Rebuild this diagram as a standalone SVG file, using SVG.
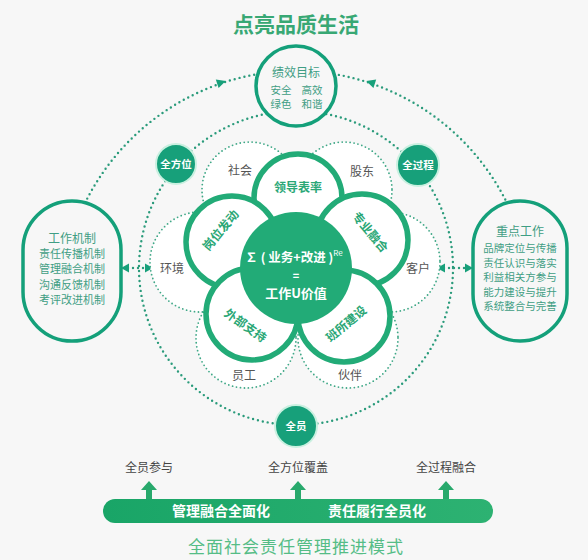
<svg xmlns="http://www.w3.org/2000/svg" width="588" height="560" viewBox="0 0 588 560">
<defs>
<style>
.bg{fill:#f7f7f7}
.dot{fill:none;stroke:#2a9b7b;stroke-width:2.4;stroke-dasharray:0 5;stroke-linecap:round}
.sdot{fill:none;stroke:#3fa887;stroke-width:1.8;stroke-dasharray:0 4;stroke-linecap:round}
.sfill{fill:#ffffff;stroke:none}
.ah{fill:#17a07a}
.ring{fill:#f7f7f7;stroke:#14a07a;stroke-width:3.5}
.petal{fill:#ffffff;stroke:#22ab77;stroke-width:5.5}
.core{fill:#22ab77}
.badge{fill:#17a07a;stroke:#c9f0e0;stroke-width:2}
.t{font-family:"Noto Sans CJK SC","Noto Sans",sans-serif;text-anchor:middle}
.teal{fill:#3f9e84}
.pt{fill:#2aa776;font-weight:bold;font-size:12px}
.lbl{fill:#555;font-size:12px}
.wb{fill:#ffffff;font-weight:bold}
.up{fill:#28a96c}
</style>
<linearGradient id="bar" x1="0" y1="0" x2="1" y2="0">
<stop offset="0" stop-color="#19a567"/>
<stop offset="1" stop-color="#2db272"/>
</linearGradient>
</defs>
<rect class="bg" x="0" y="0" width="588" height="560"/>

<text class="t" x="296" y="32" font-size="21" font-weight="bold" fill="#38a874">点亮品质生活</text>

<g id="connectors">
<circle class="dot" cx="296" cy="268" r="157"/>
<path class="dot" d="M85,203 A237,237 0 0 1 258,74"/>
<path class="dot" d="M334,74 A237,237 0 0 1 507,203"/>
<polygon class="ah" points="5,0 -4,-4.5 -4,4.5" transform="translate(221,82.5) rotate(-18)"/>
<polygon class="ah" points="5,0 -4,-4.5 -4,4.5" transform="translate(371,82.5) rotate(198)"/>
<line class="dot" x1="128" y1="268" x2="146" y2="268"/>
<polygon class="ah" points="121,268 129,263.5 129,272.5"/>
<polygon class="ah" points="153,268 145,263.5 145,272.5"/>
<line class="dot" x1="444" y1="268" x2="466" y2="268"/>
<polygon class="ah" points="437,268 445,263.5 445,272.5"/>
<polygon class="ah" points="473,268 465,263.5 465,272.5"/>
</g>

<g id="stakeholders">
<circle class="sfill" cx="250" cy="190" r="48"/>
<circle class="sfill" cx="344" cy="190" r="48"/>
<circle class="sfill" cx="200" cy="262" r="50"/>
<circle class="sfill" cx="390" cy="262" r="50"/>
<circle class="sfill" cx="246" cy="338" r="50"/>
<circle class="sfill" cx="348" cy="338" r="50"/>
<circle class="sdot" cx="250" cy="190" r="48"/>
<circle class="sdot" cx="344" cy="190" r="48"/>
<circle class="sdot" cx="200" cy="262" r="50"/>
<circle class="sdot" cx="390" cy="262" r="50"/>
<circle class="sdot" cx="246" cy="338" r="50"/>
<circle class="sdot" cx="348" cy="338" r="50"/>
<text class="t lbl" x="240" y="175">社会</text>
<text class="t lbl" x="362" y="176">股东</text>
<text class="t lbl" x="172" y="273">环境</text>
<text class="t lbl" x="418" y="273">客户</text>
<text class="t lbl" x="244" y="380">员工</text>
<text class="t lbl" x="350" y="380">伙伴</text>
</g>

<g id="petal-lead"><circle class="petal" cx="298" cy="198" r="44"/></g>
<g id="petal-post"><circle class="petal" cx="232" cy="242" r="46"/></g>
<g id="petal-pro"><circle class="petal" cx="362" cy="240" r="46"/></g>
<g id="petal-ext"><circle class="petal" cx="252" cy="314" r="46"/></g>
<g id="petal-team"><circle class="petal" cx="344" cy="316" r="46"/></g>
<g id="core">
<circle class="core" cx="296" cy="268" r="56"/>
<text class="t wb" x="294" y="262" font-size="12.5">∑ ( 业务+改进 )<tspan dy="-6" font-size="8" font-weight="normal">Re</tspan></text>
<text class="t wb" x="296" y="280" font-size="11">=</text>
<text class="t wb" x="296" y="298" font-size="13">工作U价值</text>
</g>
<text class="t pt" x="298" y="192">领导表率</text>
<text class="t pt" transform="translate(224,233) rotate(-50)">岗位发动</text>
<text class="t pt" transform="translate(367,235) rotate(50)">专业融合</text>
<text class="t pt" transform="translate(243,329) rotate(35)">外部支持</text>
<text class="t pt" transform="translate(349,327) rotate(-40)">班所建设</text>

<g id="goal">
<circle class="ring" cx="296" cy="86" r="40"/>
<text class="t teal" x="296" y="77" font-size="12">绩效目标</text>
<text class="t teal" x="281" y="94" font-size="10.5">安全</text>
<text class="t teal" x="312" y="94" font-size="10.5">高效</text>
<text class="t teal" x="281" y="108" font-size="10.5">绿色</text>
<text class="t teal" x="312" y="108" font-size="10.5">和谐</text>
</g>

<g id="mechanism">
<rect class="ring" x="23" y="201" width="98" height="140" rx="49"/>
<text class="t teal" x="72" y="243" font-size="12">工作机制</text>
<text class="t teal" x="72" y="258" font-size="11">责任传播机制</text>
<text class="t teal" x="72" y="273" font-size="11">管理融合机制</text>
<text class="t teal" x="72" y="289" font-size="11">沟通反馈机制</text>
<text class="t teal" x="72" y="304" font-size="11">考评改进机制</text>
</g>

<g id="keywork">
<rect class="ring" x="473" y="201" width="94" height="140" rx="47"/>
<text class="t teal" x="520" y="236" font-size="12">重点工作</text>
<text class="t teal" x="520" y="252" font-size="10.5">品牌定位与传播</text>
<text class="t teal" x="520" y="266.5" font-size="10.5">责任认识与落实</text>
<text class="t teal" x="520" y="281" font-size="10.5">利益相关方参与</text>
<text class="t teal" x="520" y="295.5" font-size="10.5">能力建设与提升</text>
<text class="t teal" x="520" y="310" font-size="10.5">系统整合与完善</text>
</g>

<g id="all-round"><circle class="badge" cx="176" cy="164" r="20"/><text class="t wb" x="176" y="168" font-size="10.5">全方位</text></g>
<g id="all-process"><circle class="badge" cx="418" cy="165" r="21"/><text class="t wb" x="418" y="169" font-size="10.5">全过程</text></g>
<g id="all-staff"><circle class="badge" cx="296" cy="426" r="21"/><text class="t wb" x="296" y="430" font-size="10.5">全员</text></g>

<g id="bottom">
<text class="t" x="149" y="472" font-size="12" fill="#444">全员参与</text>
<text class="t" x="298" y="472" font-size="12" fill="#444">全方位覆盖</text>
<text class="t" x="446" y="472" font-size="12" fill="#444">全过程融合</text>
<polygon class="up" points="149,481 141,490 146,490 146,500 152,500 152,490 157,490"/>
<polygon class="up" points="298,481 290,490 295,490 295,500 301,500 301,490 306,490"/>
<polygon class="up" points="446,481 438,490 443,490 443,500 449,500 449,490 454,490"/>
<rect x="103" y="499" width="390" height="24" rx="12" fill="url(#bar)"/>
<text class="t wb" x="221" y="516" font-size="14">管理融合全面化</text>
<text class="t wb" x="377" y="516" font-size="14">责任履行全员化</text>
<text class="t" x="296" y="553" font-size="17" fill="#55bd86" letter-spacing="1">全面社会责任管理推进模式</text>
</g>
</svg>
